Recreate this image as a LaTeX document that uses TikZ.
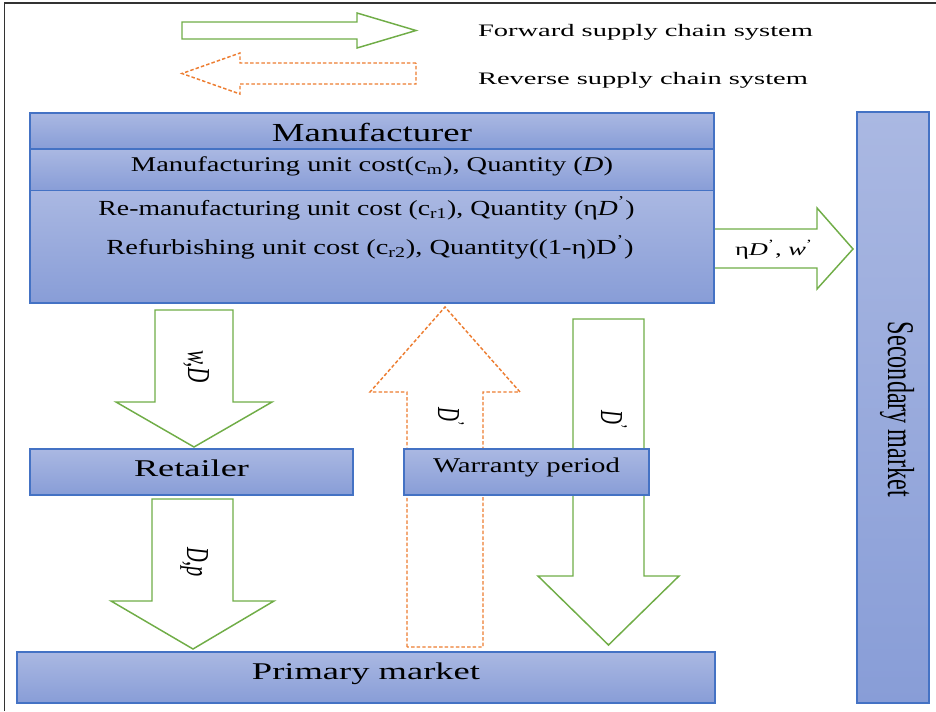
\documentclass[tikz,border=0pt]{standalone}
\usepackage{fontspec}
\setmainfont{Liberation Serif}
\usepackage{graphicx}
\newlength\px \setlength\px{0.75pt}
\newcommand\fitt[3]{\resizebox{#1\px}{\height}{\fontsize{#2\px}{#2\px}\selectfont #3}}
\newcommand\rott[4]{\resizebox{#1\px}{#4\height}{\fontsize{#2\px}{#2\px}\selectfont #3}}
\definecolor{boxblue}{HTML}{4472C4}
\definecolor{boxtop}{HTML}{AAB8E2}
\definecolor{boxbot}{HTML}{889DD7}
\definecolor{fgreen}{HTML}{70AD47}
\definecolor{rorange}{HTML}{ED7D31}
\tikzset{
  box/.style={draw=boxblue, line width=0.8pt, top color=boxtop, bottom color=boxbot},
  fwd/.style={draw=fgreen, line width=1.1pt, fill=white, line join=miter},
  rev/.style={draw=rorange, line width=1.1pt, dash pattern=on 2.6pt off 1.6pt, fill=white},
  lbl/.style={inner sep=0pt, outer sep=0pt},
}
\begin{document}
\begin{tikzpicture}[x=0.75pt, y=-0.75pt]
\useasboundingbox (0,0) rectangle (936,711);
% frame
\draw[line width=0.8pt, black!80] (4.5,711) -- (4.5,3) -- (936,3);
% legend
\draw[fwd] (182,22) -- (357,22) -- (357,13) -- (416,30.5) -- (357,48) -- (357,39) -- (182,39) -- cycle;
\draw[rev] (416,63) -- (240,63) -- (240,53) -- (182,73.5) -- (240,94) -- (240,84) -- (416,84) -- cycle;
\node[lbl, anchor=base west] (fwdtxt) at (478,36) {\fitt{335}{17.5}{Forward supply chain system}};
\node[lbl, anchor=base west] (revtxt) at (478,84) {\fitt{330}{17.5}{Reverse supply chain system}};
% arrows
\draw[fwd] (713,229) -- (817,229) -- (817,208) -- (853,249) -- (817,289) -- (817,268) -- (713,268) -- cycle;
\draw[fwd] (155,310) -- (233,310) -- (233,402) -- (272,402) -- (194,447) -- (116,402) -- (155,402) -- cycle;
\draw[fwd] (152,499) -- (233,499) -- (233,601) -- (274,601) -- (193,649) -- (111,601) -- (152,601) -- cycle;
\draw[rev] (407,647) -- (407,392) -- (370,392) -- (445,307) -- (520,392) -- (483,392) -- (483,647) -- cycle;
\draw[fwd] (573,319) -- (644,319) -- (644,576) -- (679,576) -- (608.5,645) -- (538,576) -- (573,576) -- cycle;
% boxes
\path[box] (30,113) rectangle (714,149);
\path[box] (30,149) rectangle (714,190.5);
\path[box] (30,190.5) rectangle (714,303);
\path[box] (30,449) rectangle (353,495);
\path[box] (404,449) rectangle (649,495);
\path[box] (17,652) rectangle (715,703);
\path[box] (857,112) rectangle (929,703);
% box texts
\node[lbl, anchor=base] (mfr) at (372,141) {\fitt{200}{26}{Manufacturer}};
\node[lbl, anchor=base] (mfrA) at (372,171.5) {\fitt{482}{21}{Manufacturing unit cost(c\textsubscript{m}), Quantity (\textit{D})}};
\node[lbl, anchor=base] (mfrB) at (366.5,215) {\fitt{536}{21.5}{Re-manufacturing unit cost (c\textsubscript{r1}), Quantity (η\textit{D}\textsuperscript{'})}};
\node[lbl, anchor=base] (mfrC) at (370,254) {\fitt{527}{21.5}{Refurbishing unit cost (c\textsubscript{r2}), Quantity((1-η)D\textsuperscript{'})}};
\node[lbl, anchor=base] (ret) at (191.5,476) {\fitt{115}{24}{Retailer}};
\node[lbl, anchor=base] (war) at (526.5,472) {\fitt{187}{21}{Warranty period}};
\node[lbl, anchor=base] (prim) at (366,679) {\fitt{228}{24}{Primary market}};
\node[lbl, anchor=base west] (sec2) at (735,255) {\fitt{78}{18}{η\textit{D}\textsuperscript{'}, \textit{w}\textsuperscript{'}}};
% rotated labels
\node[lbl, anchor=base, rotate=-90] (sec) at (888,409.5) {\rott{175}{24}{Secondary market}{1.57}};
\node[lbl, anchor=base, rotate=-90] (wd) at (188,366.5) {\rott{33}{20}{\textit{w,D}}{1.6}};
\node[lbl, anchor=base, rotate=-90] (dp) at (187,562) {\rott{30}{20}{\textit{D,p}}{1.6}};
\node[lbl, anchor=base, rotate=-90] (dr) at (438,417) {\rott{19}{20}{\textit{D}\textsuperscript{'}}{1.6}};
\node[lbl, anchor=base, rotate=-90] (dg) at (601,420) {\rott{19}{20}{\textit{D}\textsuperscript{'}}{1.6}};
\end{tikzpicture}
\end{document}
